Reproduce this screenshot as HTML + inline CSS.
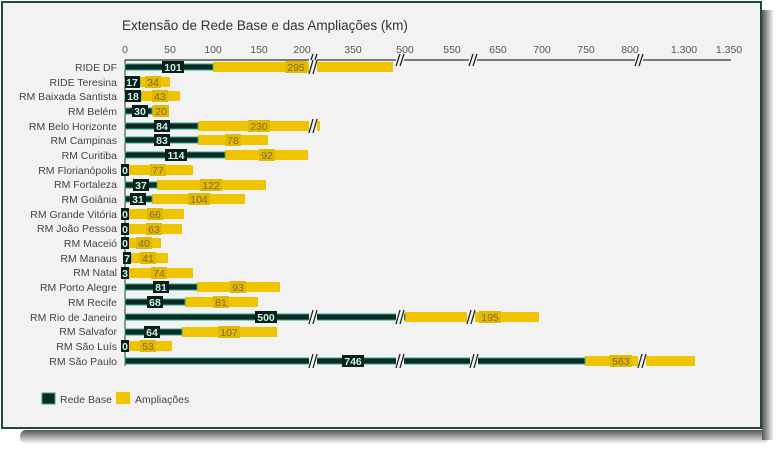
<!DOCTYPE html>
<html><head><meta charset="utf-8"><style>
html,body{margin:0;padding:0;background:#fff;}
svg{display:block;font-family:"Liberation Sans",sans-serif;}
.c{font-size:10.5px;fill:#444;text-anchor:end;}
.t{font-size:10.5px;fill:#555;text-anchor:middle;}
.d{fill:#0d2a24;stroke:#2aa88f;stroke-width:1;}
.y{fill:#f0c400;}
.db{fill:#0a1f1a;}
.dl{font-size:10.5px;font-weight:bold;fill:#c8f4e6;text-anchor:middle;}
.yb{fill:#e3b800;}
.yl{font-size:10.5px;fill:#7d6c33;text-anchor:middle;}
.br{stroke:#222;stroke-width:1.3;}
</style></head><body>
<svg width="780" height="451" viewBox="0 0 780 451">
<defs><linearGradient id="sh" x1="0" y1="0" x2="0" y2="1"><stop offset="0" stop-color="#555"/><stop offset="1" stop-color="#fff"/></linearGradient>
<linearGradient id="sh2" x1="0" y1="0" x2="1" y2="0"><stop offset="0" stop-color="#555"/><stop offset="1" stop-color="#fff"/></linearGradient></defs>
<rect x="20" y="430" width="748" height="14" fill="url(#sh)" rx="6"/>
<rect x="762" y="10" width="12" height="430" fill="url(#sh2)"/>
<rect x="2" y="2" width="759" height="426" fill="#f2f2f2" stroke="#1f4a3a" stroke-width="2"/>
<text x="122" y="30" font-size="13.5" fill="#333">Extensão de Rede Base e das Ampliações (km)</text>
<!-- axis -->
<g class="t">
<text x="125" y="53">0</text><text x="170" y="53">50</text><text x="213" y="53">100</text><text x="259" y="53">150</text><text x="302" y="53">200</text><text x="353" y="53">350</text><text x="405" y="53">500</text><text x="452" y="53">550</text><text x="498" y="53">650</text><text x="542" y="53">700</text><text x="586" y="53">750</text><text x="630" y="53">800</text><text x="684" y="53">1.300</text><text x="729" y="53">1.350</text>
</g>
<line x1="125" y1="60" x2="731" y2="60" stroke="#333" stroke-width="1.2"/>
<line x1="125" y1="60" x2="125" y2="366" stroke="#333" stroke-width="1"/>
<g class="br">
<rect x="309" y="54" width="8" height="12" fill="#f2f2f2" stroke="none"/><line x1="309" y1="66" x2="313" y2="54"/><line x1="313" y1="66" x2="317" y2="54"/>
<rect x="396" y="54" width="8" height="12" fill="#f2f2f2" stroke="none"/><line x1="396" y1="66" x2="400" y2="54"/><line x1="400" y1="66" x2="404" y2="54"/>
<rect x="469" y="54" width="8" height="12" fill="#f2f2f2" stroke="none"/><line x1="469" y1="66" x2="473" y2="54"/><line x1="473" y1="66" x2="477" y2="54"/>
<rect x="635" y="54" width="8" height="12" fill="#f2f2f2" stroke="none"/><line x1="635" y1="66" x2="639" y2="54"/><line x1="639" y1="66" x2="643" y2="54"/>
</g>
<!-- categories -->
<g class="c">
<text x="117" y="71">RIDE DF</text><text x="117" y="86">RIDE Teresina</text><text x="117" y="100">RM Baixada Santista</text><text x="117" y="115">RM Belém</text><text x="117" y="130">RM Belo Horizonte</text><text x="117" y="144">RM Campinas</text><text x="117" y="159">RM Curitiba</text><text x="117" y="174">RM Florianópolis</text><text x="117" y="188">RM Fortaleza</text><text x="117" y="203">RM Goiânia</text><text x="117" y="218">RM Grande Vitória</text><text x="117" y="232">RM João Pessoa</text><text x="117" y="247">RM Maceió</text><text x="117" y="262">RM Manaus</text><text x="117" y="276">RM Natal</text><text x="117" y="291">RM Porto Alegre</text><text x="117" y="306">RM Recife</text><text x="117" y="321">RM Rio de Janeiro</text><text x="117" y="335">RM Salvafor</text><text x="117" y="350">RM São Luís</text><text x="117" y="365">RM São Paulo</text>
</g>
<!-- yellow bars -->
<g class="y">
<rect x="213" y="62" width="180" height="10"/>
<rect x="140" y="77" width="30" height="10"/>
<rect x="141" y="91" width="39" height="10"/>
<rect x="152" y="106" width="16" height="10"/>
<rect x="198" y="121" width="122" height="10"/>
<rect x="198" y="135" width="70" height="10"/>
<rect x="225" y="150" width="83" height="10"/>
<rect x="128" y="165" width="65" height="10"/>
<rect x="157" y="180" width="109" height="10"/>
<rect x="152" y="194" width="93" height="10"/>
<rect x="128" y="209" width="56" height="10"/>
<rect x="128" y="224" width="54" height="10"/>
<rect x="128" y="238" width="33" height="10"/>
<rect x="131" y="253" width="37" height="10"/>
<rect x="128" y="268" width="65" height="10"/>
<rect x="197" y="282" width="83" height="10"/>
<rect x="185" y="297" width="73" height="10"/>
<rect x="405" y="312" width="134" height="10"/>
<rect x="182" y="327" width="95" height="10"/>
<rect x="128" y="341" width="44" height="10"/>
<rect x="585" y="356" width="110" height="10"/>
</g>
<!-- dark bars -->
<g class="d">
<rect x="125" y="64" width="88" height="6"/>
<rect x="125" y="79" width="15" height="6"/>
<rect x="125" y="93" width="16" height="6"/>
<rect x="125" y="108" width="27" height="6"/>
<rect x="125" y="123" width="73" height="6"/>
<rect x="125" y="137" width="73" height="6"/>
<rect x="125" y="152" width="100" height="6"/>
<rect x="125" y="182" width="32" height="6"/>
<rect x="125" y="196" width="27" height="6"/>
<rect x="125" y="255" width="6" height="6"/>
<rect x="125" y="284" width="72" height="6"/>
<rect x="125" y="299" width="60" height="6"/>
<rect x="125" y="314" width="280" height="6"/>
<rect x="125" y="329" width="57" height="6"/>
<rect x="125" y="358" width="460" height="6"/>
</g>
<!-- break marks on bars -->
<g class="br">
<rect x="309" y="60" width="8" height="14" fill="#f2f2f2" stroke="none"/><line x1="309" y1="74" x2="313" y2="60"/><line x1="313" y1="74" x2="317" y2="60"/>
<rect x="309" y="119" width="8" height="14" fill="#f2f2f2" stroke="none"/><line x1="309" y1="133" x2="313" y2="119"/><line x1="313" y1="133" x2="317" y2="119"/>
<rect x="309" y="310" width="8" height="14" fill="#f2f2f2" stroke="none"/><line x1="309" y1="324" x2="313" y2="310"/><line x1="313" y1="324" x2="317" y2="310"/>
<rect x="396" y="310" width="8" height="14" fill="#f2f2f2" stroke="none"/><line x1="396" y1="324" x2="400" y2="310"/><line x1="400" y1="324" x2="404" y2="310"/>
<rect x="467" y="310" width="8" height="14" fill="#f2f2f2" stroke="none"/><line x1="467" y1="324" x2="471" y2="310"/><line x1="471" y1="324" x2="475" y2="310"/>
<rect x="309" y="354" width="8" height="14" fill="#f2f2f2" stroke="none"/><line x1="309" y1="368" x2="313" y2="354"/><line x1="313" y1="368" x2="317" y2="354"/>
<rect x="396" y="354" width="8" height="14" fill="#f2f2f2" stroke="none"/><line x1="396" y1="368" x2="400" y2="354"/><line x1="400" y1="368" x2="404" y2="354"/>
<rect x="470" y="354" width="8" height="14" fill="#f2f2f2" stroke="none"/><line x1="470" y1="368" x2="474" y2="354"/><line x1="474" y1="368" x2="478" y2="354"/>
<rect x="638" y="354" width="8" height="14" fill="#f2f2f2" stroke="none"/><line x1="638" y1="368" x2="642" y2="354"/><line x1="642" y1="368" x2="646" y2="354"/>
</g>
<!-- dark labels -->
<g class="db">
<rect x="162" y="61" width="22" height="12"/>
<rect x="125" y="76" width="15" height="12"/>
<rect x="125" y="90" width="16" height="12"/>
<rect x="132" y="105" width="16" height="12"/>
<rect x="154" y="120" width="16" height="12"/>
<rect x="154" y="134" width="16" height="12"/>
<rect x="165" y="149" width="22" height="12"/>
<rect x="121" y="164" width="8" height="12"/>
<rect x="133" y="179" width="16" height="12"/>
<rect x="130" y="193" width="16" height="12"/>
<rect x="121" y="208" width="8" height="12"/>
<rect x="121" y="223" width="8" height="12"/>
<rect x="121" y="237" width="8" height="12"/>
<rect x="123" y="252" width="8" height="12"/>
<rect x="121" y="267" width="8" height="12"/>
<rect x="153" y="281" width="16" height="12"/>
<rect x="147" y="296" width="16" height="12"/>
<rect x="255" y="311" width="22" height="12"/>
<rect x="144" y="326" width="16" height="12"/>
<rect x="121" y="340" width="8" height="12"/>
<rect x="342" y="355" width="22" height="12"/>
</g>
<g class="dl">
<text x="173" y="71">101</text><text x="132" y="86">17</text><text x="133" y="100">18</text><text x="140" y="115">30</text><text x="162" y="130">84</text><text x="162" y="144">83</text><text x="176" y="159">114</text><text x="125" y="174">0</text><text x="141" y="189">37</text><text x="138" y="203">31</text><text x="125" y="218">0</text><text x="125" y="233">0</text><text x="125" y="247">0</text><text x="127" y="262">7</text><text x="125" y="277">3</text><text x="161" y="291">81</text><text x="155" y="306">68</text><text x="266" y="321">500</text><text x="152" y="336">64</text><text x="125" y="350">0</text><text x="353" y="365">746</text>
</g>
<!-- yellow labels -->
<g class="yb">
<rect x="285" y="61" width="22" height="12"/>
<rect x="145" y="76" width="16" height="12"/>
<rect x="152" y="90" width="16" height="12"/>
<rect x="153" y="105" width="16" height="12"/>
<rect x="248" y="120" width="22" height="12"/>
<rect x="225" y="134" width="16" height="12"/>
<rect x="259" y="149" width="16" height="12"/>
<rect x="150" y="164" width="16" height="12"/>
<rect x="200" y="179" width="22" height="12"/>
<rect x="188" y="193" width="22" height="12"/>
<rect x="147" y="208" width="16" height="12"/>
<rect x="146" y="223" width="16" height="12"/>
<rect x="136" y="237" width="16" height="12"/>
<rect x="140" y="252" width="16" height="12"/>
<rect x="151" y="267" width="16" height="12"/>
<rect x="230" y="281" width="16" height="12"/>
<rect x="213" y="296" width="16" height="12"/>
<rect x="479" y="311" width="22" height="12"/>
<rect x="218" y="326" width="22" height="12"/>
<rect x="140" y="340" width="16" height="12"/>
<rect x="610" y="355" width="22" height="12"/>
</g>
<g class="yl">
<text x="296" y="71">295</text><text x="153" y="86">34</text><text x="160" y="100">43</text><text x="161" y="115">20</text><text x="259" y="130">230</text><text x="233" y="144">78</text><text x="267" y="159">92</text><text x="158" y="174">77</text><text x="211" y="189">122</text><text x="199" y="203">104</text><text x="155" y="218">66</text><text x="154" y="233">63</text><text x="144" y="247">40</text><text x="148" y="262">41</text><text x="159" y="277">74</text><text x="238" y="291">93</text><text x="221" y="306">81</text><text x="490" y="321">195</text><text x="229" y="336">107</text><text x="148" y="350">53</text><text x="621" y="365">563</text>
</g>
<!-- legend -->
<rect x="42" y="393" width="13" height="11" fill="#0d2a24" stroke="#2aa88f" stroke-width="1"/>
<text x="60" y="403" font-size="10.5" fill="#444">Rede Base</text>
<rect x="116" y="392" width="14" height="12" fill="#f0c400"/>
<text x="135" y="403" font-size="10.5" fill="#444">Ampliações</text>
</svg>
</body></html>
